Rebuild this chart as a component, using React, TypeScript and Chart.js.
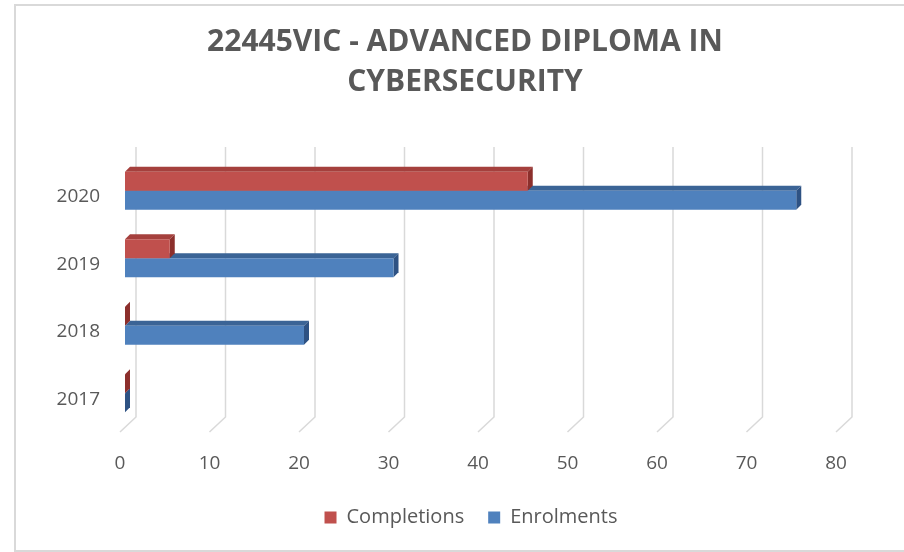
import React, { useEffect, useRef } from 'react';
import { Chart, registerables } from 'chart.js';

Chart.register(...registerables);

// ---- data ----
const categories = ['2020', '2019', '2018', '2017'];
const completions = [45, 5, 0, 0];
const enrolments = [75, 30, 20, 0];
const seriesNames = ['Completions', 'Enrolments'];
const titleLines = ['22445VIC - ADVANCED DIPLOMA IN', 'CYBERSECURITY'];
const xMin = 0;
const xMax = 80;
const xStep = 10;

// ---- styles ----
const frontColors = ['#C0504D', '#4F81BD'];
const topColors = ['#A5403D', '#3B6496'];
const sideColors = ['#8C2F2C', '#2E5283'];
const textColor = '#595959';
const FONT = "'Open Sans', 'DejaVu Sans', sans-serif";

const BAR_DX = 5;
const BAR_DY = -5;
const BACK_DX = 11;
const BACK_DY = -10;
const FRONT_DX = -5;
const FRONT_DY = 5;
const TITLE_LEFT = 89;
const LEGEND_LEFT = 101;

const threeD = {
  id: 'threeD',
  afterLayout(chart: any) {
    // centre title and legend over the framed area
    if (chart.titleBlock) {
      chart.titleBlock.left = TITLE_LEFT;
      chart.titleBlock.width = chart.titleBlock.right - TITLE_LEFT;
    }
    if (chart.legend) {
      chart.legend.left = LEGEND_LEFT;
      chart.legend.width = chart.legend.right - LEGEND_LEFT;
    }
  },
  beforeDraw(chart: any) {
    const ctx = chart.ctx;
    ctx.save();
    ctx.fillStyle = '#FFFFFF';
    ctx.fillRect(0, 0, chart.width, chart.height);
    ctx.strokeStyle = '#D9D9D9';
    ctx.lineWidth = 2;
    ctx.strokeRect(15, 5, chart.width + 10, chart.height - 6);
    ctx.restore();
  },
  beforeDatasetsDraw(chart: any) {
    const ctx = chart.ctx;
    const { top, bottom } = chart.chartArea;
    const xs = chart.scales.x;
    ctx.save();
    // 3D gridlines: back wall + floor diagonal
    ctx.strokeStyle = '#D9D9D9';
    ctx.lineWidth = 1.5;
    xs.ticks.forEach((t: any) => {
      const px = xs.getPixelForValue(t.value);
      ctx.beginPath();
      ctx.moveTo(px + BACK_DX, top + BACK_DY);
      ctx.lineTo(px + BACK_DX, bottom + BACK_DY);
      ctx.lineTo(px + FRONT_DX, bottom + FRONT_DY);
      ctx.stroke();
    });
    // bar depth faces (drawn behind the front faces)
    for (const di of [1, 0]) {
      const meta = chart.getDatasetMeta(di);
      meta.data.forEach((el: any) => {
        const { x, y, base, height } = el.getProps(['x', 'y', 'base', 'height'], true);
        const t = y - height / 2;
        const b = y + height / 2;
        const l = Math.min(base, x);
        const r = Math.max(base, x);
        ctx.fillStyle = topColors[di];
        ctx.beginPath();
        ctx.moveTo(l, t);
        ctx.lineTo(r, t);
        ctx.lineTo(r + BAR_DX, t + BAR_DY);
        ctx.lineTo(l + BAR_DX, t + BAR_DY);
        ctx.closePath();
        ctx.fill();
        ctx.fillStyle = sideColors[di];
        ctx.beginPath();
        ctx.moveTo(r, t);
        ctx.lineTo(r + BAR_DX, t + BAR_DY);
        ctx.lineTo(r + BAR_DX, b + BAR_DY);
        ctx.lineTo(r, b);
        ctx.closePath();
        ctx.fill();
      });
    }
    ctx.restore();
  },
};

export default function App() {
  const ref = useRef<HTMLCanvasElement | null>(null);

  useEffect(() => {
    if (!ref.current) return;
    const chart = new Chart(ref.current, {
      type: 'bar',
      data: {
        labels: categories,
        datasets: [
          {
            label: seriesNames[0],
            data: completions,
            backgroundColor: frontColors[0],
            borderWidth: 0,
            categoryPercentage: 0.561,
            barPercentage: 1,
          },
          {
            label: seriesNames[1],
            data: enrolments,
            backgroundColor: frontColors[1],
            borderWidth: 0,
            categoryPercentage: 0.561,
            barPercentage: 1,
          },
        ],
      },
      options: {
        indexAxis: 'y',
        responsive: false,
        devicePixelRatio: 1,
        animation: false,
        layout: { padding: { left: 0, right: 63, top: 0, bottom: 14.5 } },
        scales: {
          x: {
            min: xMin,
            max: xMax,
            grid: { display: false, drawTicks: false },
            border: { display: false },
            ticks: {
              stepSize: xStep,
              color: textColor,
              font: { family: FONT, size: 19 },
              padding: 25,
              labelOffset: -5,
            },
            afterFit(s: any) {
              s.height = 56.5;
            },
          },
          y: {
            grid: { display: false, drawTicks: false },
            border: { display: false },
            ticks: {
              color: textColor,
              font: { family: FONT, size: 19 },
              padding: 25,
              labelOffset: 6,
            },
            afterFit(s: any) {
              s.width = 125;
            },
          },
        },
        plugins: {
          title: {
            display: true,
            text: titleLines,
            color: textColor,
            font: { family: FONT, size: 30, weight: 'bold', lineHeight: 40 / 30 },
            padding: { top: 22.5, bottom: 54.5 },
          },
          legend: {
            position: 'bottom',
            labels: {
              color: textColor,
              font: { family: FONT, size: 20 },
              boxWidth: 12,
              boxHeight: 12,
              padding: 24,
            },
          },
          tooltip: { enabled: false },
        },
      },
      plugins: [threeD],
    } as any);
    return () => chart.destroy();
  }, []);

  return (
    <div style={{ position: 'fixed', left: 0, top: 0, width: 904, height: 552, background: '#fff' }}>
      <canvas ref={ref} width={904} height={552} style={{ display: 'block' }} />
    </div>
  );
}
